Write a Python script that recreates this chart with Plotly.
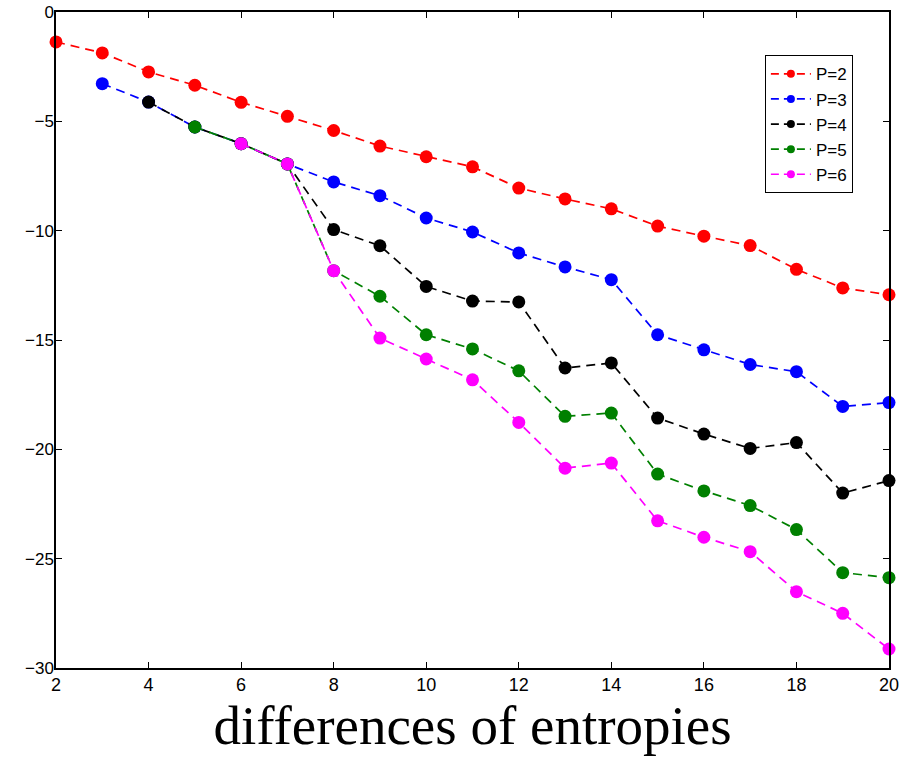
import plotly.graph_objects as go

x_all = list(range(2, 21))

p2 = [-1.37, -1.87, -2.74, -3.35, -4.13, -4.77, -5.42, -6.13, -6.62, -7.08,
      -8.05, -8.55, -9.0, -9.79, -10.25, -10.68, -11.77, -12.62, -12.93]
p3 = [-3.28, -4.12, -5.26, -6.02, -6.95, -7.77, -8.40, -9.42, -10.06,
      -11.02, -11.66, -12.24, -14.76, -15.45, -16.12, -16.45, -18.04, -17.86]
p4 = [-4.12, -5.26, -6.02, -6.95, -9.95, -10.69, -12.55, -13.22, -13.26,
      -16.28, -16.05, -18.57, -19.30, -19.96, -19.69, -22.0, -21.43]
p5 = [-5.26, -6.02, -6.95, -11.83, -13.0, -14.76, -15.41, -16.41, -18.49,
      -18.34, -21.13, -21.90, -22.57, -23.67, -25.64, -25.87]
p6 = [-6.02, -6.95, -11.83, -14.91, -15.87, -16.82, -18.77, -20.86, -20.63,
      -23.27, -24.02, -24.68, -26.51, -27.50, -29.13]

series = [
    ("P=2", p2, "#ff0000"),
    ("P=3", p3, "#0000ff"),
    ("P=4", p4, "#000000"),
    ("P=5", p5, "#008000"),
    ("P=6", p6, "#ff00ff"),
]

x_ticks = list(range(2, 21, 2))
y_ticks = list(range(-30, 1, 5))

fig = go.Figure()
for name, vals, color in series:
    xs = x_all[len(x_all) - len(vals):]
    fig.add_trace(go.Scatter(
        x=xs, y=vals, mode="lines+markers", name=name, showlegend=False,
        line=dict(color=color, width=1.7, dash="9px,6px"),
        marker=dict(color=color, size=13),
        cliponaxis=False,
    ))
for name, vals, color in series:
    fig.add_trace(go.Scatter(
        x=[None], y=[None], mode="lines+markers", name=name,
        line=dict(color=color, width=1.7, dash="8px,5px"),
        marker=dict(color=color, size=8),
    ))

axis_common = dict(
    showline=True, linecolor="black", linewidth=1.5, mirror="ticks",
    ticks="inside", ticklen=6, tickcolor="black", tickwidth=1,
    showgrid=False, zeroline=False, automargin=False,
)

fig.update_layout(
    width=911, height=758,
    margin=dict(l=56, r=22, t=12, b=90, autoexpand=False),
    paper_bgcolor="white", plot_bgcolor="white",
    xaxis=dict(range=[2, 20], tickvals=x_ticks, **axis_common,
               tickfont=dict(family="Liberation Sans, Arial", size=18, color="black"),
               title=dict(text="differences of entropies",
                          font=dict(family="Liberation Serif, Times New Roman", size=55, color="black"),
                          standoff=0)),
    yaxis=dict(range=[-30, 0], tickvals=y_ticks, **axis_common,
               tickfont=dict(family="Liberation Sans, Arial", size=17, color="black"),
               ticklabelstandoff=-3),
    legend=dict(x=0.851, y=0.934, xanchor="left", yanchor="top",
                bgcolor="white", bordercolor="black", borderwidth=1,
                font=dict(family="Liberation Sans, Arial", size=17, color="black"),
                tracegroupgap=0, itemwidth=40),
    showlegend=True,
)

fig.write_html("out.html", config={"displayModeBar": False},
               post_script="document.body.style.margin='0';")
